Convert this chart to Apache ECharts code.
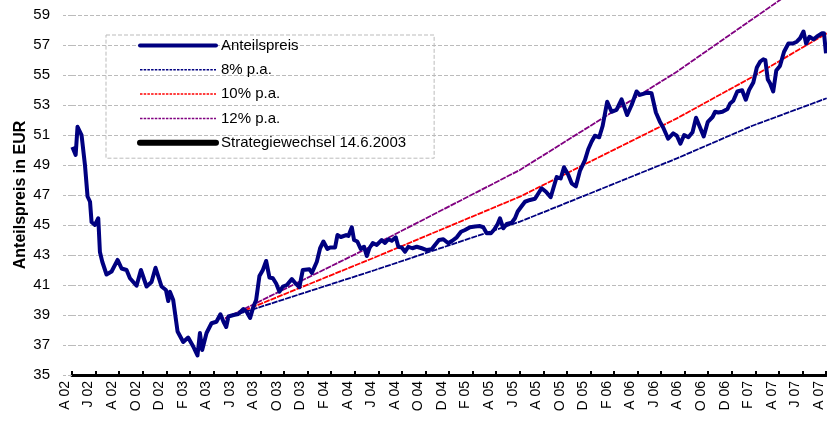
<!DOCTYPE html>
<html>
<head>
<meta charset="utf-8">
<script src="https://cdn.jsdelivr.net/npm/echarts@6/dist/echarts.min.js"></script>
<style>html,body{margin:0;padding:0;background:#fff}#c{width:827px;height:421px}</style>
</head>
<body>
<div id="c"></div>
<script>
// x positions: months since April 2002 (tick every 2 months)
var tickLabels = ['A 02','J 02','A 02','O 02','D 02','F 03','A 03','J 03','A 03','O 03','D 03','F 04','A 04','J 04','A 04','O 04','D 04','F 05','A 05','J 05','A 05','O 05','D 05','F 06','A 06','J 06','A 06','O 06','D 06','F 07','A 07','J 07','A 07'];
var seriesNames = ['Anteilspreis','8% p.a.','10% p.a.','12% p.a.','Strategiewechsel 14.6.2003'];

var priceMonths = [0.03,0.31,0.47,0.81,1.10,1.32,1.53,1.66,1.95,2.23,2.37,2.57,2.93,3.36,3.87,4.21,4.63,4.92,5.48,5.85,6.33,6.75,7.09,7.60,7.97,8.17,8.31,8.59,8.96,9.44,9.86,10.29,10.65,10.86,11.05,11.42,11.84,12.26,12.60,12.86,13.09,13.28,13.71,14.13,14.55,14.84,15.12,15.40,15.63,15.91,16.20,16.48,16.76,17.05,17.33,17.61,17.90,18.24,18.66,19.02,19.30,19.59,20.15,20.36,20.78,21.06,21.34,21.68,21.91,22.33,22.53,22.82,23.27,23.46,23.75,23.94,24.22,24.51,24.79,25.02,25.24,25.53,25.87,26.29,26.57,26.85,27.14,27.48,27.70,27.99,28.27,28.55,28.89,29.26,29.69,30.11,30.53,30.81,31.15,31.52,31.94,32.28,32.66,33.02,33.36,33.78,34.21,34.63,34.91,35.20,35.56,35.84,36.13,36.33,36.61,36.90,37.32,37.60,37.83,38.11,38.45,38.88,39.30,39.86,40.23,40.63,41.14,41.48,41.76,42.12,42.41,42.77,43.11,43.54,43.82,44.10,44.38,44.75,45.04,45.43,45.80,46.22,46.65,47.12,47.50,47.92,48.20,48.63,48.91,49.19,49.56,49.90,50.18,50.60,51.03,51.34,51.64,51.96,52.32,52.67,52.97,53.31,53.62,53.97,54.37,54.59,54.86,55.21,55.64,55.86,56.13,56.47,56.88,57.19,57.47,57.83,58.13,58.42,58.68,58.85,59.06,59.25,59.52,59.78,60.09,60.44,60.81,61.18,61.52,61.80,62.09,62.31,62.60,62.93,63.21,63.64,63.83,64.00];
var prices = [50.2,49.67,51.55,51.0,49.0,46.9,46.55,45.2,45.0,45.45,43.2,42.55,41.7,41.9,42.67,42.1,42.0,41.45,40.95,42.0,40.9,41.2,42.15,40.9,40.67,39.93,40.55,40.0,37.9,37.2,37.5,36.9,36.3,37.8,36.67,37.8,38.45,38.55,39.05,38.55,38.2,38.9,39.0,39.07,39.4,39.2,38.8,39.55,40.0,41.6,42.0,42.6,41.5,41.45,41.1,40.55,40.9,41.0,41.4,41.07,40.85,42.0,42.05,41.8,42.55,43.45,43.9,43.4,43.5,43.5,44.33,44.2,44.33,44.27,44.85,44.0,43.9,43.4,43.55,42.93,43.45,43.8,43.67,44.0,43.8,44.05,43.95,44.18,43.55,43.5,43.22,43.55,43.45,43.55,43.45,43.33,43.38,43.67,44.0,44.05,43.78,43.95,44.18,44.55,44.67,44.85,44.9,44.93,44.85,44.45,44.45,44.7,45.07,45.45,44.78,45.07,45.15,45.45,45.9,46.2,46.55,46.67,46.75,47.45,47.22,46.85,48.2,48.1,48.85,48.35,47.78,47.58,48.6,49.33,50.05,50.55,50.95,50.85,51.6,53.22,52.55,52.67,53.38,52.33,53.0,53.9,53.67,53.78,53.82,53.78,52.5,51.89,51.5,50.75,51.11,50.95,50.42,51.0,50.85,51.18,52.15,51.5,50.9,51.88,52.2,52.55,52.5,52.55,52.74,53.1,53.28,53.9,53.98,53.35,54.0,54.5,55.5,55.9,56.05,56.0,54.7,54.45,53.9,55.3,55.6,56.55,57.1,57.1,57.22,57.45,57.9,57.1,57.55,57.38,57.55,57.78,57.78,56.45];

var trendMonths = [13.0, 25.73, 38.02, 51.34, 57.7, 64.06];
var trend8  = [38.78, 42.0, 45.22, 49.44, 51.6, 53.45];
var trend10 = [38.78, 42.85, 46.89, 52.11, 54.85, 57.78];
var trend12Months = [13.0, 25.73, 38.02, 51.34, 60.09, 64.06];
var trend12 = [38.78, 43.7, 48.67, 55.22, 60.0, 62.4];

function pairs(xs, ys){ return xs.map(function(x,i){ return [x, ys[i]]; }); }

var NAVY = '#000080', RED = '#ff0000', PURPLE = '#800080';
var chart = echarts.init(document.getElementById('c'));
var FONT = '"Liberation Sans", Arial, sans-serif';
var hideSym = { opacity: 0 };
chart.setOption({
  animation: false,
  textStyle: { fontFamily: FONT },
  grid: { left: 72, right: 1, top: 15, bottom: 46 },
  legend: {
    orient: 'vertical',
    left: 106, top: 35,
    padding: [3, 28, 8, 31],
    itemWidth: 76, itemHeight: 14, itemGap: 9.3,
    borderColor: '#bbbbbb', borderWidth: 1, borderType: 'dashed',
    textStyle: { fontFamily: FONT, fontSize: 15, color: '#000', padding: [6, 0, 0, 0] },
    itemStyle: hideSym,
    data: [
      { name: seriesNames[0], itemStyle: hideSym, lineStyle: { color: NAVY, width: 4, cap: 'round' } },
      { name: seriesNames[1], itemStyle: hideSym, lineStyle: { color: NAVY, width: 1.5, type: [2.5, 1.2] } },
      { name: seriesNames[2], itemStyle: hideSym, lineStyle: { color: RED, width: 1.5, type: [2.5, 1.2] } },
      { name: seriesNames[3], itemStyle: hideSym, lineStyle: { color: PURPLE, width: 1.5, type: [2.5, 1.2] } },
      { name: seriesNames[4], itemStyle: hideSym, lineStyle: { color: '#000', width: 6, cap: 'round' } }
    ]
  },
  xAxis: {
    type: 'value', min: 0, max: 64, interval: 2,
    axisLine: { show: true, lineStyle: { color: '#000', width: 3 } },
    axisTick: { show: true, inside: true, length: 4, lineStyle: { color: '#000', width: 2 } },
    splitLine: { show: false },
    axisLabel: {
      rotate: 90, fontSize: 14, color: '#000', margin: 6, verticalAlign: 'bottom',
      fontFamily: FONT,
      formatter: function(v){ return tickLabels[Math.round(v/2)] || ''; }
    }
  },
  yAxis: {
    type: 'value', min: 35, max: 59, interval: 2,
    name: 'Anteilspreis in EUR', nameLocation: 'middle', nameGap: 43, nameMoveOverlap: false,
    nameTextStyle: { fontFamily: FONT, fontSize: 16, fontWeight: 'bold', color: '#000' },
    axisLine: { show: false },
    axisTick: { show: true, length: 9, lineStyle: { color: '#bbbbbb', type: 'dashed' } },
    splitLine: { show: true, lineStyle: { color: '#bbbbbb', type: 'dashed' } },
    axisLabel: { fontSize: 15, color: '#000', margin: 22, fontFamily: FONT }
  },
  series: [
    { name: seriesNames[0], type: 'line', symbol: 'none', z: 5,
      data: pairs(priceMonths, prices),
      lineStyle: { color: NAVY, width: 4, join: 'round' }, itemStyle: { color: NAVY } },
    { name: seriesNames[1], type: 'line', symbol: 'none', z: 3,
      data: pairs(trendMonths, trend8),
      lineStyle: { color: NAVY, width: 1.8, type: [6, 1] }, itemStyle: { color: NAVY } },
    { name: seriesNames[2], type: 'line', symbol: 'none', z: 3,
      data: pairs(trendMonths, trend10),
      lineStyle: { color: RED, width: 1.8, type: [6, 1] }, itemStyle: { color: RED } },
    { name: seriesNames[3], type: 'line', symbol: 'none', z: 3, clip: false,
      data: pairs(trend12Months, trend12),
      lineStyle: { color: PURPLE, width: 1.8, type: [6, 1] }, itemStyle: { color: PURPLE } },
    { name: seriesNames[4], type: 'line', symbol: 'none', data: [],
      lineStyle: { color: '#000', width: 6, cap: 'round' }, itemStyle: { color: '#000' } }
  ]
});
</script>
</body>
</html>
